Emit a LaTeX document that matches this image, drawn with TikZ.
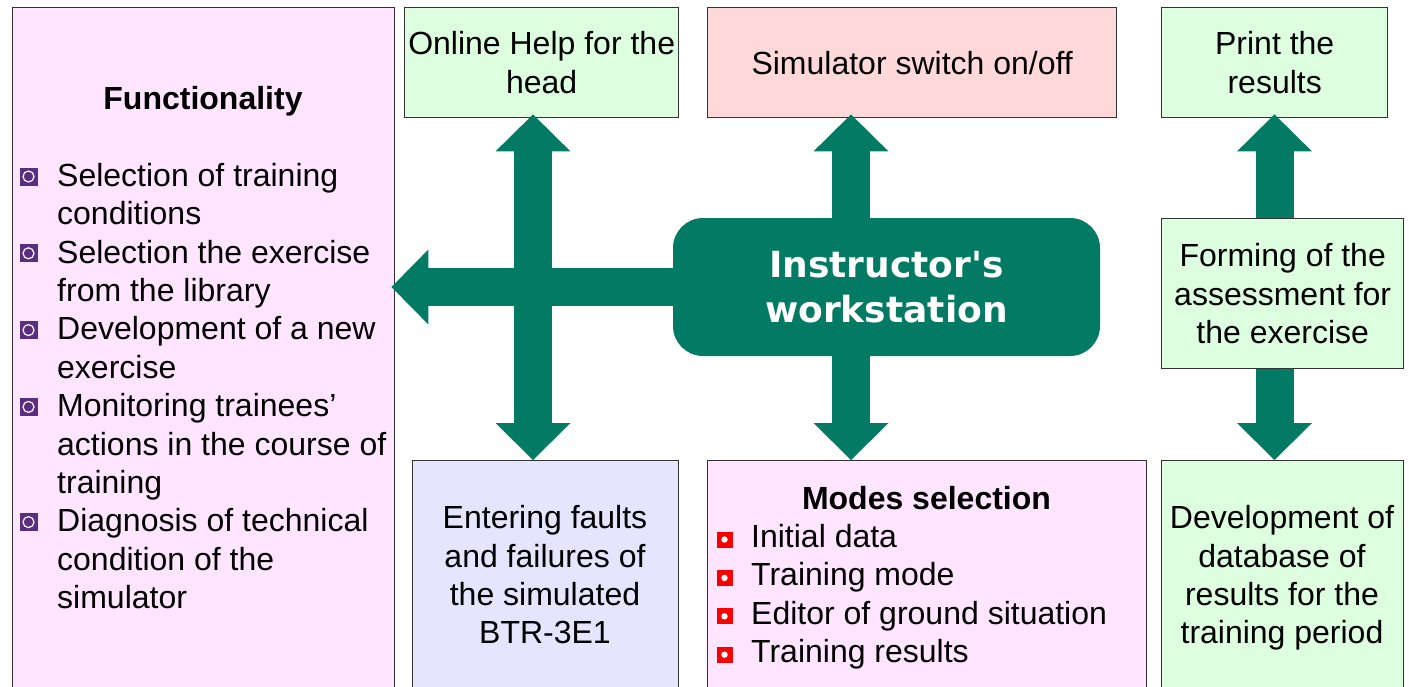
\documentclass[tikz,border=0pt]{standalone}
\usepackage{fontspec}
\setmainfont{Liberation Sans}
\newfontfamily\wsfont{DejaVu Sans}
\usetikzlibrary{arrows.meta}

\definecolor{arrowgreen}{RGB}{3,122,100}
\definecolor{panelpink}{RGB}{255,229,255}
\definecolor{panelgreen}{RGB}{221,255,224}
\definecolor{panelrose}{RGB}{255,217,217}
\definecolor{panelblue}{RGB}{229,229,255}
\definecolor{bulletpurple}{RGB}{90,45,130}
\definecolor{bulletred}{RGB}{250,0,0}

\newcommand\capstrut{\rule{0pt}{25pt}}

\begin{document}
\begin{tikzpicture}[x=1pt, y=-1pt,
  panel/.style={draw=black!80, line width=1.4pt, anchor=north west, inner sep=0pt},
  body/.style={font=\fontsize{32pt}{38.4pt}\selectfont, align=center, inner sep=0pt},
  pbul/.style={fill=bulletpurple, minimum size=18pt, inner sep=0pt,
    path picture={\draw[white, line width=1.2pt] (path picture bounding box.center) circle (5.5pt);}},
  rbul/.style={fill=bulletred, minimum size=16pt, inner sep=0pt,
    path picture={\fill[white] (path picture bounding box.center) circle (3.2pt);}},
  bigarrow/.style={draw=arrowgreen, line width=38pt},
  >={Triangle[length=37pt,width=75pt,line width=0pt]}]
\useasboundingbox (0,0) rectangle (1409,686);

% panels
\node[panel, fill=panelpink, minimum width=382pt, minimum height=700pt] (func) at (12,7) {};
\node[panel, fill=panelgreen, minimum width=274pt, minimum height=110pt, body] (help) at (404,7)
  {Online Help for the\\head};
\node[panel, fill=panelrose, minimum width=409pt, minimum height=110pt, body] (sim) at (707,7)
  {Simulator switch on/off};
\node[panel, fill=panelgreen, minimum width=226pt, minimum height=110pt, body] (print) at (1161,7)
  {Print the\\results};
\node[panel, fill=panelgreen, minimum width=242pt, minimum height=150pt, body] (forming) at (1161,218)
  {Forming of the\\assessment for\\the exercise};
\node[panel, fill=panelblue, minimum width=266pt, minimum height=240pt] (ent) at (412,460) {};
\node[panel, fill=panelpink, minimum width=439pt, minimum height=240pt] (modes) at (707,460) {};
\node[panel, fill=panelgreen, minimum width=242pt, minimum height=240pt] (dev) at (1161,460) {};

% texts of the open-ended panels
\node[body, anchor=north] (functitle) at (203,84.5) {\capstrut\bfseries Functionality};
\node[body, align=left, anchor=north west] (funclist) at (57,161)
  {\capstrut Selection of training\\conditions\\
   Selection the exercise\\from the library\\
   Development of a new\\exercise\\
   Monitoring trainees’\\actions in the course of\\training\\
   Diagnosis of technical\\condition of the\\simulator};
\node[body, anchor=north] (enttext) at (545,503.5)
  {\capstrut Entering faults\\and failures of\\the simulated\\BTR-3E1};
\node[body, anchor=north] (modestitle) at (926.5,484) {\capstrut\bfseries Modes selection};
\node[body, align=left, anchor=north west] (modeslist) at (751,522)
  {\capstrut Initial data\\Training mode\\Editor of ground situation\\Training results};
\node[body, anchor=north] (devtext) at (1282,503.5)
  {\capstrut Development of\\database of\\results for the\\training period};

% list bullets
\node[pbul] (fb1) at (28.5,176.5) {};
\node[pbul] (fb2) at (28.5,253.3) {};
\node[pbul] (fb3) at (28.5,330.1) {};
\node[pbul] (fb4) at (28.5,406.9) {};
\node[pbul] (fb5) at (28.5,522.1) {};
\node[rbul] (mb1) at (724.5,539.5) {};
\node[rbul] (mb2) at (724.5,577.9) {};
\node[rbul] (mb3) at (724.5,616.3) {};
\node[rbul] (mb4) at (724.5,654.7) {};

% central block
\node[fill=arrowgreen, rounded corners=30pt, minimum width=427pt, minimum height=138pt,
      text=white, font=\wsfont\bfseries\fontsize{36pt}{45pt}\selectfont, align=center, inner sep=0pt]
  (ws) at (886.5,287) {Instructor's\\workstation};

% arrow axes
\coordinate (lv) at (533,0);
\coordinate (cv) at (851,0);
\coordinate (rv) at (1274.5,0);

% connectors
\draw[bigarrow, ->, shorten <=-5pt, shorten >=-4pt] (ws.west) -- (ws.west -| func.east);
\draw[bigarrow, <->, shorten >=-4pt] (ent.north -| lv) -- (help.south -| lv);
\draw[bigarrow, ->, shorten <=-5pt, shorten >=-4pt] (ws.north -| cv) -- (sim.south -| cv);
\draw[bigarrow, ->, shorten <=-5pt] (ws.south -| cv) -- (modes.north -| cv);
\draw[bigarrow, ->, shorten >=-4pt] (forming.north -| rv) -- (print.south -| rv);
\draw[bigarrow, ->] (forming.south -| rv) -- (dev.north -| rv);
\end{tikzpicture}
\end{document}
